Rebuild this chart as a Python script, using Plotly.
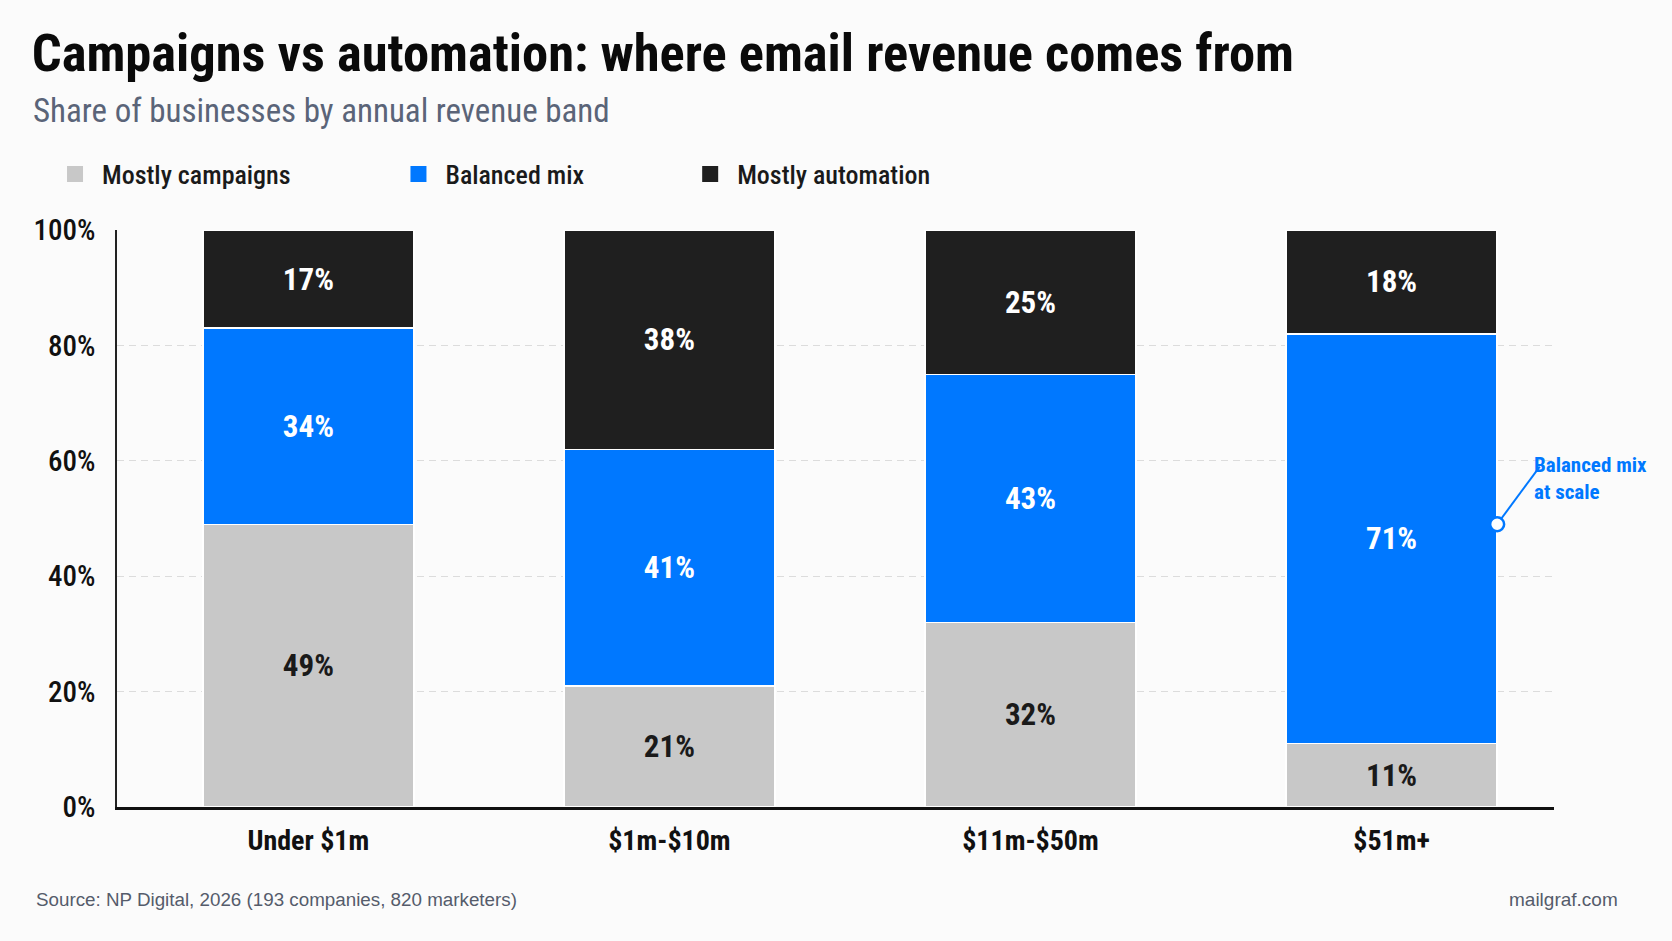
import plotly.graph_objects as go

# data
bands = ["Under $1m", "$1m-$10m", "$11m-$50m", "$51m+"]
mostly_campaigns = [49, 21, 32, 11]
balanced_mix = [34, 41, 43, 71]
mostly_automation = [17, 38, 25, 18]
y_ticks = [0, 20, 40, 60, 80, 100]
y_tick_text = ["0%", "20%", "40%", "60%", "80%", "100%"]

callout_band = 3
callout_value = 49

FONT = "Roboto Condensed, Liberation Sans Narrow, Roboto, sans-serif"
GRAY = "#c8c8c8"
BLUE = "#0078ff"
BLACK = "#1f1f1f"
BAR_W = 0.585

fig = go.Figure()

series = [
    ("Mostly campaigns", mostly_campaigns, GRAY, "#1a1a1a"),
    ("Balanced mix", balanced_mix, BLUE, "white"),
    ("Mostly automation", mostly_automation, BLACK, "white"),
]

for name, vals, col, tcol in series:
    fig.add_trace(go.Bar(
        x=bands, y=vals, name=name, showlegend=False,
        marker=dict(color=col, line=dict(color="white", width=1.5)),
        width=BAR_W,
        text=[f"{v}%" for v in vals],
        textposition="inside", insidetextanchor="middle",
        textfont=dict(family=FONT, size=31, color=tcol, weight="bold"),
        constraintext="none",
    ))

# legend entries, one legend box each so they sit where the original has them
legend_x = [-0.048, 0.191, 0.394]
for i, (name, vals, col, tcol) in enumerate(series):
    lg = "legend" if i == 0 else f"legend{i+1}"
    fig.add_trace(go.Scatter(
        x=[None], y=[None], mode="markers", name=name, legend=lg,
        marker=dict(symbol="square", size=19, color=col),
    ))

legend_common = dict(
    orientation="h", yanchor="middle", xanchor="left", y=1.097,
    bgcolor="rgba(0,0,0,0)",
    font=dict(family=FONT, size=26, color="#1a1a1a", weight=500),
    itemwidth=44,
)
fig.update_layout(
    legend=dict(x=legend_x[0], **legend_common),
    legend2=dict(x=legend_x[1], **legend_common),
    legend3=dict(x=legend_x[2], **legend_common),
)

# callout for the $51m+ balanced mix
x_dot = callout_band + BAR_W / 2
fig.add_shape(type="line", xref="x", yref="y",
              x0=x_dot, y0=callout_value, x1=x_dot + 0.118, y1=callout_value + 10,
              line=dict(color=BLUE, width=2))
fig.add_shape(type="circle", xref="x", yref="y",
              xsizemode="pixel", ysizemode="pixel",
              xanchor=x_dot, yanchor=callout_value,
              x0=-7, x1=7, y0=-7, y1=7,
              fillcolor="white", line=dict(color=BLUE, width=2.5))
fig.add_annotation(
    xref="paper", yref="paper", x=0.985, y=0.569, xanchor="left", yanchor="middle",
    text="Balanced mix<br>at scale", showarrow=False, align="left",
    font=dict(family=FONT, size=21, color=BLUE, weight="bold"),
)

fig.update_layout(
    barmode="stack",
    width=1672, height=941,
    margin=dict(l=117, r=118, t=230, b=134),
    paper_bgcolor="#fbfbfb", plot_bgcolor="#fbfbfb",
    title=dict(
        text="<b>Campaigns vs automation: where email revenue comes from</b>",
        x=0.019, xanchor="left", y=0.944, yanchor="middle",
        font=dict(family=FONT, size=52.5, color="#0a0a0a"),
    ),
    font=dict(family=FONT),
)

fig.add_annotation(
    xref="paper", yref="paper", x=-0.06, y=1.207, xanchor="left", yanchor="middle",
    text="Share of businesses by annual revenue band", showarrow=False,
    font=dict(family=FONT, size=33, color="#5a6478"),
)
fig.add_annotation(
    xref="paper", yref="paper", x=-0.058, y=-0.161, xanchor="left", yanchor="middle",
    text="Source: NP Digital, 2026 (193 companies, 820 marketers)", showarrow=False,
    font=dict(family="Liberation Sans, Arial, sans-serif", size=18.8, color="#555c6b"),
)
fig.add_annotation(
    xref="paper", yref="paper", x=1.046, y=-0.161, xanchor="right", yanchor="middle",
    text="mailgraf.com", showarrow=False,
    font=dict(family="Liberation Sans, Arial, sans-serif", size=19, color="#555c6b"),
)

fig.update_xaxes(
    range=[-0.53, 3.45],
    showline=True, linecolor="#111111", linewidth=3,
    showgrid=False, ticks="",
    tickfont=dict(family=FONT, size=28, color="#111111", weight="bold"),
    ticklabelstandoff=6,
)
fig.update_yaxes(
    range=[0, 100], tickvals=y_ticks, ticktext=y_tick_text,
    showline=True, linecolor="#222222", linewidth=1.5,
    showgrid=True, gridcolor="#dcdcdc", griddash="7px,5px", gridwidth=1,
    zeroline=False, ticks="",
    tickfont=dict(family=FONT, size=29, color="#111111", weight=500),
    ticklabelstandoff=14,
)

fig.write_html("out.html", config={"displayModeBar": False},
               post_script="document.body.style.margin='0';")
